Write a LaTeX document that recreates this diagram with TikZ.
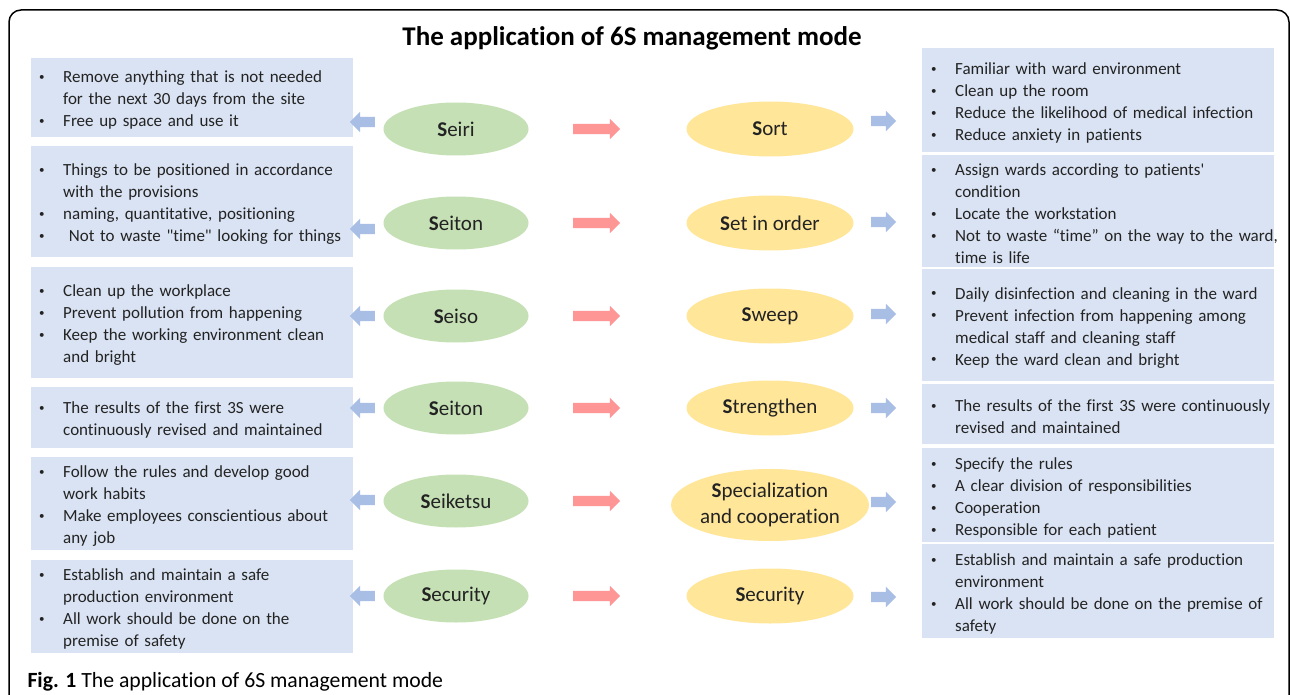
\documentclass[tikz,border=0pt]{standalone}
\usepackage{fontspec}
\setmainfont{Carlito}[Ligatures={TeXOff,NoCommon}]
\usetikzlibrary{shapes.arrows,shapes.geometric}
\definecolor{boxblue}{RGB}{218,227,243}
\definecolor{elgreen}{RGB}{197,224,180}
\definecolor{elyellow}{RGB}{255,230,153}
\definecolor{arrpink}{RGB}{255,150,150}
\definecolor{arrblue}{RGB}{168,190,228}
\definecolor{txt}{RGB}{35,35,35}
\newcommand\smallbul{\hspace*{1pt}\raisebox{2.3pt}{\fontsize{11}{11}\selectfont\textbullet}}
\newcommand\bitem[1]{\par\hangindent=25pt\hangafter=1\noindent\makebox[25pt][l]{\smallbul}#1\par}
\tikzset{
  btext/.style={font=\fontsize{17}{22}\selectfont, text=txt, text width=420pt, inner sep=0pt, anchor=west, yshift=2.5pt},
  lbox/.style={fill=boxblue, anchor=north west, inner sep=0pt, minimum width=322pt},
  rbox/.style={fill=boxblue, anchor=north west, inner sep=0pt, minimum width=352pt},
  gell/.style={ellipse, fill=elgreen, minimum width=145pt, minimum height=53pt, inner sep=0pt, text=txt, font=\fontsize{21}{24}\selectfont},
  yell/.style={ellipse, fill=elyellow, minimum width=167pt, minimum height=55pt, inner sep=0pt, text=txt, font=\fontsize{21}{24}\selectfont, align=center},
  parr/.style={single arrow, fill=arrpink, minimum height=47pt, minimum width=20pt, single arrow head extend=5pt, inner xsep=0pt, inner ysep=5pt},
  barr/.style={single arrow, fill=arrblue, minimum height=25pt, minimum width=20pt, single arrow head extend=5pt, inner xsep=0pt, inner ysep=5pt},
}
\begin{document}
\begin{tikzpicture}[x=1pt,y=-1pt]
\useasboundingbox (0,0) rectangle (1290,695);
\fill[white] (0,0) rectangle (1290,695);
\draw[line width=1.5pt, rounded corners=12pt] (9,10) rectangle (1289,730);
\node[font=\fontsize{27}{30}\selectfont\bfseries] (title) at (632,38) {The application of 6S management mode};
% left boxes
\node[lbox, minimum height=79pt] (L1) at (31,58) {};
\node[lbox, minimum height=111pt] (L2) at (31,146) {};
\node[lbox, minimum height=111pt] (L3) at (31,267) {};
\node[lbox, minimum height=61pt] (L4) at (31,387) {};
\node[lbox, minimum height=93pt] (L5) at (31,457) {};
\node[lbox, minimum height=93pt] (L6) at (31,560) {};
\node[btext, xshift=7pt] (L1t) at (L1.west) {\bitem{Remove anything that is not needed\newline for the next 30 days from the site}\bitem{Free up space and use it}};
\node[btext, xshift=7pt] (L2t) at (L2.west) {\bitem{Things to be positioned in accordance\newline with the provisions}\bitem{naming, quantitative, positioning}\bitem{\ Not to waste "time" looking for things}};
\node[btext, xshift=7pt] (L3t) at (L3.west) {\bitem{Clean up the workplace}\bitem{Prevent pollution from happening}\bitem{Keep the working environment clean\newline and bright}};
\node[btext, xshift=7pt] (L4t) at (L4.west) {\bitem{The results of the first 3S were\newline continuously revised and maintained}};
\node[btext, xshift=7pt] (L5t) at (L5.west) {\bitem{Follow the rules and develop good\newline work habits}\bitem{Make employees conscientious about\newline any job}};
\node[btext, xshift=7pt] (L6t) at (L6.west) {\bitem{Establish and maintain a safe\newline production environment}\bitem{All work should be done on the\newline premise of safety}};
% right boxes
\node[rbox, minimum height=104pt] (R1) at (922,48) {};
\node[rbox, minimum height=112pt] (R2) at (922,155) {};
\node[rbox, minimum height=112pt] (R3) at (922,269) {};
\node[rbox, minimum height=60pt] (R4) at (922,384) {};
\node[rbox, minimum height=94pt] (R5) at (922,448) {};
\node[rbox, minimum height=94pt] (R6) at (922,544) {};
\node[btext, xshift=8pt] (R1t) at (R1.west) {\bitem{Familiar with ward environment}\bitem{Clean up the room}\bitem{Reduce the likelihood of medical infection}\bitem{Reduce anxiety in patients}};
\node[btext, xshift=8pt] (R2t) at (R2.west) {\bitem{Assign wards according to patients'\newline condition}\bitem{Locate the workstation}\bitem{Not to waste “time” on the way to the ward,\newline time is life}};
\node[btext, xshift=8pt] (R3t) at (R3.west) {\bitem{Daily disinfection and cleaning in the ward}\bitem{Prevent infection from happening among\newline medical staff and cleaning staff}\bitem{Keep the ward clean and bright}};
\node[btext, xshift=8pt] (R4t) at (R4.west) {\bitem{The results of the first 3S were continuously\newline revised and maintained}};
\node[btext, xshift=8pt] (R5t) at (R5.west) {\bitem{Specify the rules}\bitem{A clear division of responsibilities}\bitem{Cooperation}\bitem{Responsible for each patient}};
\node[btext, xshift=8pt] (R6t) at (R6.west) {\bitem{Establish and maintain a safe production\newline environment}\bitem{All work should be done on the premise of\newline safety}};
% ellipses
\node[gell] (G1) at (456,129) {\textbf{S}eiri};
\node[gell] (G2) at (456,223) {\textbf{S}eiton};
\node[gell] (G3) at (456,316) {\textbf{S}eiso};
\node[gell] (G4) at (456,408) {\textbf{S}eiton};
\node[gell] (G5) at (456,501) {\textbf{S}eiketsu};
\node[gell] (G6) at (456,596) {\textbf{S}ecurity};
\node[yell] (Y1) at (770,129) {\textbf{S}ort};
\node[yell] (Y2) at (770,223) {\textbf{S}et in order};
\node[yell] (Y3) at (770,316) {\textbf{S}weep};
\node[yell] (Y4) at (770,408) {\textbf{S}trengthen};
\node[yell, minimum height=72pt, font=\fontsize{21}{26}\selectfont] (Y5) at (770,505) {\textbf{S}pecialization\\and cooperation};
\node[yell] (Y6) at (770,596) {\textbf{S}ecurity};
% arrows
\foreach \i/\y in {1/129,2/223,3/316,4/408,5/501,6/596}{
  \node[parr] (P\i) at (594,\y) {};
}
\foreach \i/\y in {1/122,2/229,3/316,4/408,5/500,6/596}{
  \node[barr, shape border rotate=180] (BL\i) at (365,\y) {};
}
\foreach \i/\y in {1/121,2/222,3/314,4/408,5/502,6/597}{
  \node[barr] (BR\i) at (881,\y) {};
}
\node[anchor=base west, font=\fontsize{21.7}{24}\selectfont] (cap) at (24,687) {\textbf{Fig. 1} The application of 6S management mode};
\end{tikzpicture}
\end{document}
